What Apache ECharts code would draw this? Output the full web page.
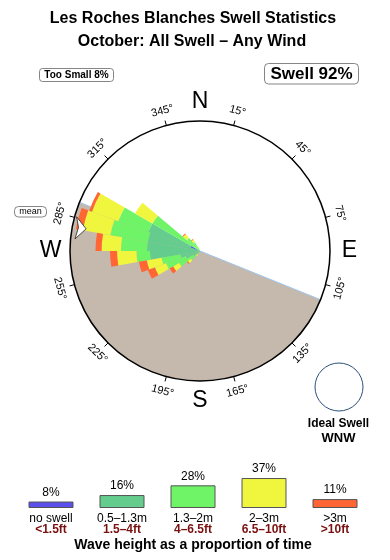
<!DOCTYPE html>
<html>
<head>
<meta charset="utf-8">
<script src="https://cdn.jsdelivr.net/npm/echarts@6/dist/echarts.min.js"></script>
<style>html,body{margin:0;padding:0;background:#fff}#c{width:390px;height:560px}</style>
</head>
<body>
<div id="c"></div>
<script>
// ---- data ----
const binCenters = ['5','15','25','35','45','55','65','75','85','95','105','115','125','135','145','155','165','175',
  '185','195','205','215','225','235','245','255','265','275','285','295','305','315','325','335','345','355'];
// stacked thickness per direction bin (radius units, 130 = outer circle)
const noSwell  = [0,0,0,0,0,0,0,0,0,0, 0,0,0,0,0,0,0,0,0,0, 0,0,0,0,0,0,0,0,0,10, 0,0,0,0,0,0];
const h05to13  = [0,0,0,0,0,0,0,0,0,0, 0,0,0,0,0,0,0,0,0,0, 0,0,5,8,15,20,50,53,53,45, 0,0,0,0,0,0];
const h13to2   = [0,0,0,0,0,0,0,0,0,0, 0,0,0,0,0,0,0,0,0,0, 0,4,7,16,21,19,13.5,26,38,32, 55,17,10,4,0,0];
const h2to3    = [0,0,0,0,0,0,0,0,0,0, 0,0,0,0,0,0,0,0,0,0, 0,2,4,7,12,15,19.5,19.5,28,28, 20,5,3,1,0,0];
const hOver3   = [0,0,0,0,0,0,0,0,0,0, 0,0,0,0,0,0,0,0,0,0, 0,0,1,4,7.5,8,7,6,7,3, 0,1,1,0,0,0];

const landSector = [112, 292];      // bearings of the shaded land half
const meanDir = 281;                // mean swell direction (arrow)
const degreeTicks = [15,45,75,105,135,165,195,225,255,285,315,345];
const degreeLabels = ['15°','45°','75°','105°','135°','165°','195°','225°','255°','285°','315°','345°'];
const compassDirs = [0, 90, 180, 270];
const compassLabels = ['N','E','S','W'];

const legendLabels = ['no swell','0.5–1.3m','1.3–2m','2–3m','>3m'];
const legendFeet = ['<1.5ft','1.5–4ft','4–6.5ft','6.5–10ft','>10ft'];
const legendPct = [8,16,28,37,11];

const colors = ['#5b50ec','#64cc8c','#6ef466','#f0f53e','#ff6633'];
const FONT = '"Liberation Sans", Arial, Helvetica, sans-serif';

const chart = echarts.init(document.getElementById('c'), null, {renderer:'canvas'});

function bearingRot(b){
  let cw = (b > 90 && b < 270) ? b - 180 : (b >= 270 ? b - 360 : b);
  return -cw * Math.PI / 180;
}

const roseSeries = [noSwell, h05to13, h13to2, h2to3, hOver3].map((arr, i) => ({
  type:'bar', coordinateSystem:'polar', polarIndex:0, stack:'rose',
  data: arr, barCategoryGap:'0%', barGap:'0%', z:2, silent:true,
  itemStyle:{color: colors[i]}
}));

const landSpan = landSector[1] - landSector[0];

const option = {
  animation:false,
  polar:[
    {center:[200,251], radius:130},
    {center:[200,251], radius:130}
  ],
  angleAxis:[
    {polarIndex:0, type:'category', data:binCenters, startAngle:90, clockwise:true, boundaryGap:true, z:3,
     axisLine:{show:true, lineStyle:{color:'#000', width:1.5}},
     axisTick:{show:true, inside:false, length:5, alignWithLabel:true, interval:(i)=> i % 3 === 1, lineStyle:{color:'#000', width:1}},
     axisLabel:{show:false}, splitLine:{show:false}, splitArea:{show:false}},
    {polarIndex:1, type:'value', min:0, max:360, startAngle:90, clockwise:true, show:false,
     axisLine:{show:false}, axisTick:{show:false}, axisLabel:{show:false}, splitLine:{show:false}}
  ],
  radiusAxis:[
    {polarIndex:0, type:'value', min:0, max:130, show:false, axisLine:{show:false}, axisTick:{show:false}, axisLabel:{show:false}, splitLine:{show:false}},
    {polarIndex:1, type:'value', min:0, max:130, show:false, axisLine:{show:false}, axisTick:{show:false}, axisLabel:{show:false}, splitLine:{show:false}}
  ],
  grid:{left:15.5, width:355, top:475.6, height:32.4},
  xAxis:{type:'category', data:legendLabels, axisLine:{show:false}, axisTick:{show:false},
    axisLabel:{margin:5, interval:0,
      formatter:(v, i) => '{a|' + v + '}\n{b|' + legendFeet[i] + '}',
      rich:{a:{fontFamily:FONT, fontSize:12, color:'#000', lineHeight:11},
            b:{fontFamily:FONT, fontSize:12, fontWeight:'bold', color:'#7a1010', lineHeight:11}}}},
  yAxis:{type:'value', min:0, max:40, show:false, splitLine:{show:false}},
  graphic:[
    {type:'text', x:193, y:18.5, style:{text:'Les Roches Blanches Swell Statistics', font:'bold 16px ' + FONT, fill:'#000', align:'center', verticalAlign:'middle', textAlign:'center', textVerticalAlign:'middle'}},
    {type:'text', x:192, y:42, style:{text:'October: All Swell – Any Wind', font:'bold 16px ' + FONT, fill:'#000', align:'center', verticalAlign:'middle', textAlign:'center', textVerticalAlign:'middle'}},
    {type:'rect', shape:{x:39.5, y:68.5, width:74, height:13, r:3}, style:{fill:'#fff', stroke:'#666', lineWidth:0.8}},
    {type:'text', x:76.5, y:75, style:{text:'Too Small 8%', font:'bold 10px ' + FONT, fill:'#000', align:'center', verticalAlign:'middle', textAlign:'center', textVerticalAlign:'middle'}},
    {type:'rect', shape:{x:264.5, y:63.5, width:94, height:20.5, r:4}, style:{fill:'#fff', stroke:'#666', lineWidth:0.8}},
    {type:'text', x:311.5, y:74, style:{text:'Swell 92%', font:'bold 17px ' + FONT, fill:'#000', align:'center', verticalAlign:'middle', textAlign:'center', textVerticalAlign:'middle'}},
    {type:'rect', shape:{x:14.5, y:206.5, width:32, height:10.5, r:4}, style:{fill:'#fff', stroke:'#666', lineWidth:0.8}},
    {type:'text', x:30.5, y:211.8, style:{text:'mean', font:'9px ' + FONT, fill:'#000', align:'center', verticalAlign:'middle', textAlign:'center', textVerticalAlign:'middle'}},
    {type:'circle', shape:{cx:339, cy:387, r:24}, style:{fill:'#fff', stroke:'#2a5078', lineWidth:1}},
    {type:'text', x:338.5, y:423.3, style:{text:'Ideal Swell', font:'bold 12px ' + FONT, fill:'#000', align:'center', verticalAlign:'middle', textAlign:'center', textVerticalAlign:'middle'}},
    {type:'text', x:338.5, y:438.5, style:{text:'WNW', font:'bold 13px ' + FONT, fill:'#000', align:'center', verticalAlign:'middle', textAlign:'center', textVerticalAlign:'middle'}},
    {type:'text', x:193, y:545.5, style:{text:'Wave height as a proportion of time', font:'bold 14px ' + FONT, fill:'#000', align:'center', verticalAlign:'middle', textAlign:'center', textVerticalAlign:'middle'}}
  ],
  series:[
    {type:'pie', center:[200,251], radius:130, startAngle:90 - landSector[0], clockwise:true, silent:true, z:1,
     label:{show:false}, labelLine:{show:false}, emphasis:{disabled:true},
     data:[{value:landSpan, itemStyle:{color:'#c4b9ac'}}, {value:360 - landSpan, itemStyle:{color:'rgba(0,0,0,0)'}}]},
    {type:'custom', coordinateSystem:'polar', polarIndex:1, z:1.5, silent:true,
     data: landSector.map(b => [130, b]),
     renderItem:(params, api) => {
       const a = api.coord([0, api.value(1)]);
       const b = api.coord([api.value(0), api.value(1)]);
       return {type:'line', shape:{x1:a[0], y1:a[1], x2:b[0], y2:b[1]}, style:{stroke:'#9ec4ea', lineWidth:1}};
     }},
    ...roseSeries,
    {type:'custom', coordinateSystem:'polar', polarIndex:1, z:6, silent:true,
     data:[[116, meanDir]],
     renderItem:(params, api) => {
       const r = api.value(0), b = api.value(1);
       const pts = [api.coord([r, b]), api.coord([128, b + 4.5]), api.coord([123.8, b]), api.coord([125.6, b - 5.5])];
       return {type:'polygon', shape:{points:pts}, style:{fill:'#fff', stroke:'#222', lineWidth:0.8}};
     }},
    {type:'custom', coordinateSystem:'polar', polarIndex:1, z:6, silent:true,
     data: degreeTicks.map(b => [145, b]),
     renderItem:(params, api) => {
       const b = api.value(1);
       const p = api.coord([api.value(0), b]);
       return {type:'text', x:p[0], y:p[1], rotation:bearingRot(b),
         style:{text:degreeLabels[params.dataIndex], font:'11px ' + FONT, fill:'#000', align:'center', verticalAlign:'middle', textAlign:'center', textVerticalAlign:'middle'}};
     }},
    {type:'custom', coordinateSystem:'polar', polarIndex:1, z:6, silent:true,
     data: compassDirs.map(b => [149.5, b]),
     renderItem:(params, api) => {
       const p = api.coord([api.value(0), api.value(1)]);
       return {type:'text', x:p[0], y:p[1],
         style:{text:compassLabels[params.dataIndex], font:'23px ' + FONT, fill:'#000', align:'center', verticalAlign:'middle', textAlign:'center', textVerticalAlign:'middle'}};
     }},
    {type:'bar', xAxisIndex:0, yAxisIndex:0, barWidth:45, silent:true,
     data: legendPct.map((v, i) => ({value:v, itemStyle:{color:colors[i], borderColor:'#555', borderWidth:1}})),
     label:{show:true, position:'top', distance:3, formatter:'{c}%', fontFamily:FONT, fontSize:12, color:'#000'}}
  ]
};
chart.setOption(option);
</script>
</body>
</html>
